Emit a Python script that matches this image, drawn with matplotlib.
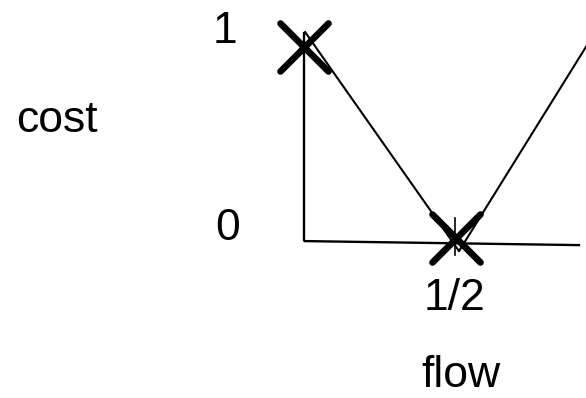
import matplotlib
matplotlib.use("Agg")
import matplotlib.pyplot as plt
from matplotlib.markers import MarkerStyle

plt.rcParams['font.family'] = ['Liberation Sans', 'DejaVu Sans']

# cost curve (hand drawn V shape), flow on x, cost on y
flow = [0.005, 0.508, 0.969]
cost = [1.083, -0.052, 1.124]

# axes as drawn
y_axis_x = [0.0, 0.0]
y_axis_y = [0.0, 1.083]
x_axis_x = [0.0, 0.904]
x_axis_y = [0.0, -0.021]

# marked points
mark_flow = [0.0, 0.498]
mark_cost = [1.005, 0.016]

# little tick at flow = 1/2
tick_x = [0.495, 0.495]
tick_y = [0.119, -0.073]

# labels: (text, x, y)
labels = [
    ("1", -0.298, 1.026),
    ("0", -0.290, 0.004),
    ("cost", -0.940, 0.565),
    ("1/2", 0.394, -0.358),
    ("flow", 0.384, -0.757),
]

fig = plt.figure(figsize=(5.86, 3.98), dpi=100)
ax = fig.add_axes([0, 0, 1, 1])
ax.set_xlim(-0.992, 0.923)
ax.set_ylim(-0.813, 1.249)
ax.axis('off')

ax.plot(y_axis_x, y_axis_y, color='black', lw=1.7, solid_capstyle='butt')
ax.plot(x_axis_x, x_axis_y, color='black', lw=1.7, solid_capstyle='butt')
ax.plot(flow, cost, color='black', lw=1.5)
ax.plot(tick_x, tick_y, color='black', lw=1.2)

xm = MarkerStyle('x', capstyle='round')
ax.plot(mark_flow, mark_cost, linestyle='none', marker=xm, markersize=34,
        markeredgewidth=4.8, color='black')

for txt, x, y in labels:
    ax.text(x, y, txt, fontsize=32, ha='left', va='baseline', color='black')

fig.savefig('out.png', dpi=100)
